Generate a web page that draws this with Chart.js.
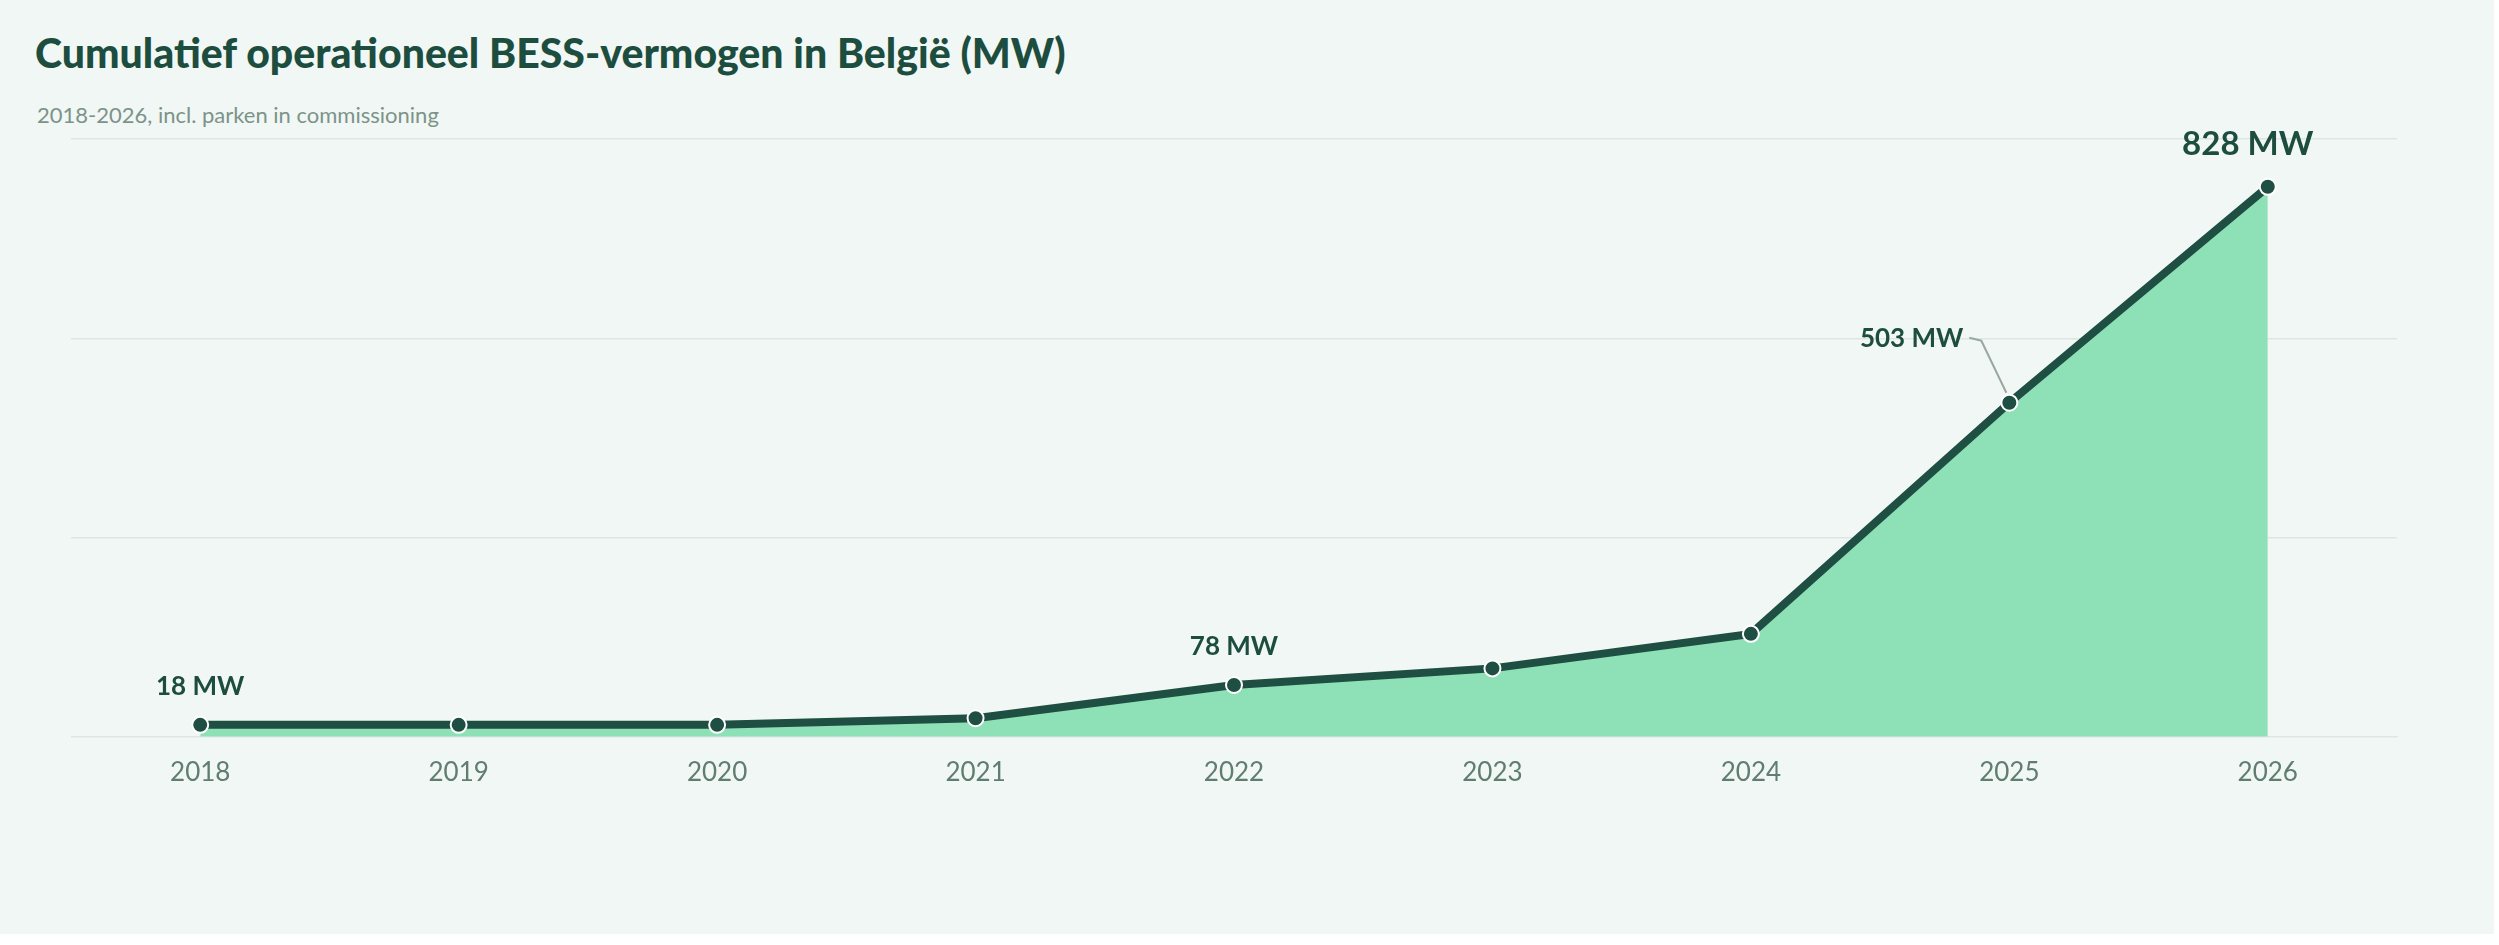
<!DOCTYPE html>
<html>
<head>
<meta charset="utf-8">
<script src="https://cdn.jsdelivr.net/npm/chart.js@4/dist/chart.umd.min.js"></script>
<style>
  body { margin: 0; background: #ffffff; font-family: Lato, "Noto Sans", sans-serif; }
  #card { position: absolute; left: 0; top: 0; width: 2494px; height: 934px; background: #f1f7f4; }
  #title { position: absolute; left: 35px; top: 28px; font-size: 41px; font-weight: 900; color: #1d4d3e; }
  #sub { position: absolute; left: 37px; top: 101px; font-size: 22px; color: #7c9389; }
  #wrap { position: absolute; left: 61px; top: 100px; width: 2346px; height: 700px; }
</style>
</head>
<body>
<div id="card">
  <div id="title">Cumulatief operationeel BESS-vermogen in België (MW)</div>
  <div id="sub">2018-2026, incl. parken in commissioning</div>
  <div id="wrap"><canvas id="c"></canvas></div>
</div>
<script>
const years = ['2018', '2019', '2020', '2021', '2022', '2023', '2024', '2025', '2026'];
const capacityMW = [18, 18, 18, 28, 78, 103, 155, 503, 828];
const labelledYears = ['2018', '2022', '2025', '2026'];

const labelPlugin = {
  id: 'mwLabels',
  afterDatasetsDraw(chart) {
    const ctx = chart.ctx;
    const meta = chart.getDatasetMeta(0);
    ctx.save();
    ctx.fillStyle = '#1d4d3e';
    ctx.textBaseline = 'alphabetic';
    labelledYears.forEach(y => {
      const i = years.indexOf(y);
      const p = meta.data[i];
      const txt = capacityMW[i] + ' MW';
      if (y === '2025') {
        ctx.strokeStyle = '#9aa8a2';
        ctx.lineWidth = 2;
        ctx.beginPath();
        ctx.moveTo(p.x - 3, p.y - 10);
        ctx.lineTo(p.x - 28, p.y - 62);
        ctx.lineTo(p.x - 40, p.y - 65);
        ctx.stroke();
        ctx.font = 'bold 26px Lato, sans-serif';
        ctx.textAlign = 'right';
        ctx.fillText(txt, p.x - 46, p.y - 56);
      } else if (y === '2026') {
        ctx.font = 'bold 33px Lato, sans-serif';
        ctx.textAlign = 'center';
        ctx.fillText(txt, p.x - 20, p.y - 32);
      } else {
        ctx.font = 'bold 26px Lato, sans-serif';
        ctx.textAlign = 'center';
        ctx.fillText(txt, p.x, p.y - 30);
      }
    });
    ctx.restore();
  }
};

new Chart(document.getElementById('c'), {
  type: 'line',
  data: {
    labels: years,
    datasets: [{
      data: capacityMW,
      borderColor: '#1f4f42',
      borderWidth: 8,
      backgroundColor: '#8ee0b6',
      fill: true,
      tension: 0,
      pointRadius: 8,
      pointBackgroundColor: '#1f4f42',
      pointBorderColor: '#ffffff',
      pointBorderWidth: 2
    }]
  },
  options: {
    responsive: true,
    maintainAspectRatio: false,
    animation: false,
    layout: { padding: { top: 39, left: 0, right: 0 } },
    plugins: { legend: { display: false }, tooltip: { enabled: false } },
    scales: {
      x: {
        offset: true,
        grid: { display: false },
        border: { color: '#dfe6e2' },
        ticks: { color: '#5f7d70', font: { size: 26, family: 'Lato' }, padding: 12 }
      },
      y: {
        min: 0, max: 900,
        afterFit(s) { s.width = 0; },
        ticks: { stepSize: 300, display: false },
        border: { display: false },
        grid: { color: '#dfe6e2', lineWidth: 1.5, drawTicks: false }
      }
    }
  },
  plugins: [labelPlugin]
});
</script>
</body>
</html>
